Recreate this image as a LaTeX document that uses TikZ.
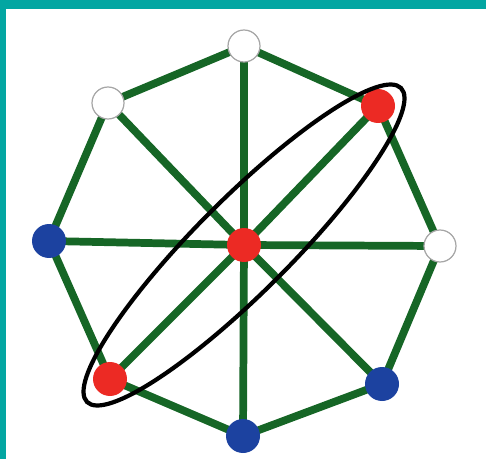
\documentclass[tikz,border=0pt]{standalone}
\usepackage{tikz}
\usetikzlibrary{backgrounds}

\definecolor{frameteal}{RGB}{3,166,162}
\definecolor{edgegreen}{RGB}{22,102,38}
\definecolor{vred}{RGB}{236,42,36}
\definecolor{vblue}{RGB}{28,66,160}

\begin{document}
\begin{tikzpicture}[
    x=0.02cm, y=-0.02cm,
    vtx/.style={circle, inner sep=0pt, minimum size=0.68cm},
    redv/.style={vtx, fill=vred},
    bluev/.style={vtx, fill=vblue},
    whitev/.style={vtx, fill=white, draw=gray!70, line width=0.7pt, minimum size=0.64cm},
    edge/.style={draw=edgegreen, line width=4.4pt},
    ring/.style={draw=black, line width=2.4pt}
]
    \useasboundingbox (0,0) rectangle (486,459);
    \fill[frameteal] (0,0) rectangle (486,9.5);
    \fill[frameteal] (0,0) rectangle (6,459);

    \node[redv] (c) at (244,245) {};
    \node[whitev] (v1) at (244,46) {};
    \node[redv] (v2) at (378,106) {};
    \node[whitev] (v3) at (440,246) {};
    \node[bluev] (v4) at (382,384) {};
    \node[bluev] (v5) at (243,436) {};
    \node[redv] (v6) at (110,379) {};
    \node[bluev] (v7) at (49,241) {};
    \node[whitev] (v8) at (108,103) {};

    \begin{scope}[on background layer]
        \draw[edge] (v1.center) -- (v2.center) -- (v3.center) -- (v4.center)
            -- (v5.center) -- (v6.center) -- (v7.center) -- (v8.center) -- cycle;
        \foreach \v in {v1,v2,v3,v4,v5,v6,v7,v8}
            \draw[edge] (c.center) -- (\v.center);
    \end{scope}

    \draw[ring, rotate around={45:(c)}] (c) ellipse [x radius=222, y radius=47];
\end{tikzpicture}
\end{document}
